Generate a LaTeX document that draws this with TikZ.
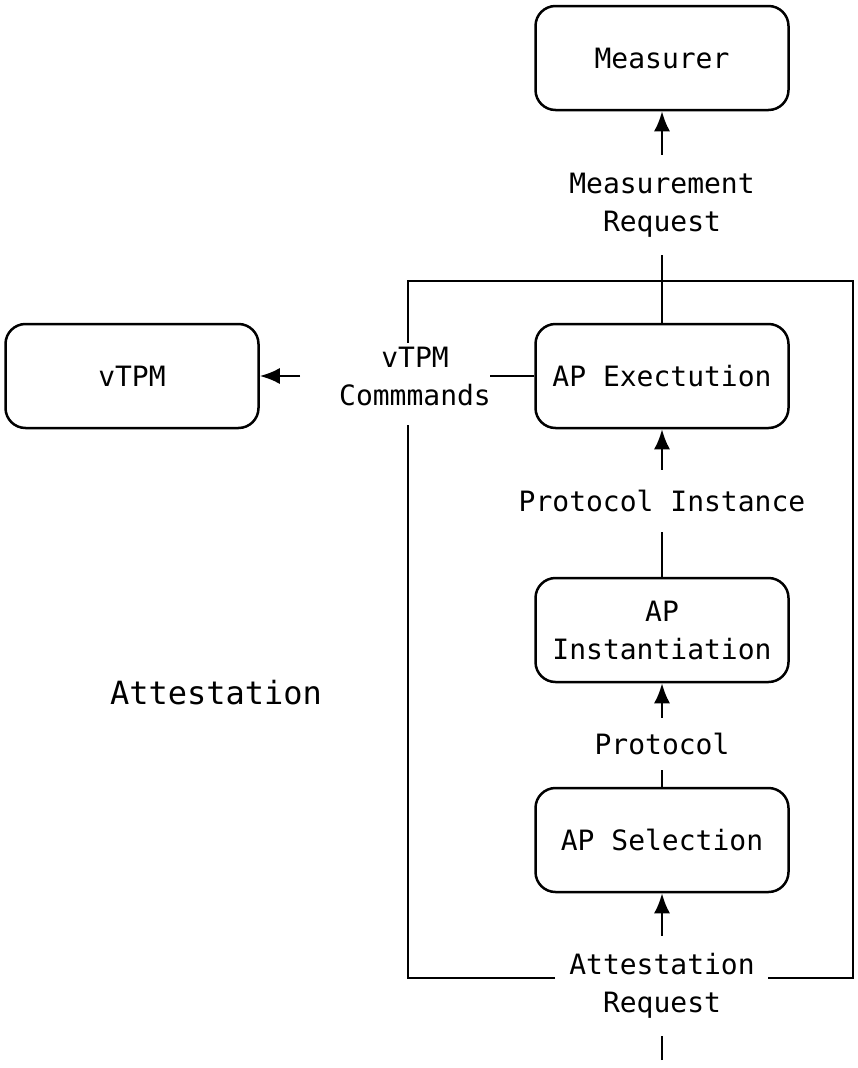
\documentclass[tikz,border=0pt]{standalone}
\usepackage{fontspec}
\setmonofont{DejaVu Sans Mono}
\usetikzlibrary{arrows.meta}
\tikzset{
  box/.style={draw, line width=2.5pt, rounded corners=20pt, minimum width=253pt, minimum height=104pt, inner sep=0pt, font=\ttfamily\fontsize{28}{38}\selectfont, align=center},
  lbl/.style={inner sep=0pt, font=\ttfamily\fontsize{28}{38}\selectfont, align=center},
  arr/.style={line width=2.5pt, -{Latex[length=20pt,width=16pt]}},
  ln/.style={line width=2.5pt},
  frame/.style={line width=2.5pt}
}
\begin{document}
\begin{tikzpicture}[x=1pt,y=-1pt]
\useasboundingbox (0,0) rectangle (857,1068);
% boxes
\node[box] (meas) at (662,58) {Measurer};
\node[box] (vtpm) at (132,376) {vTPM};
\node[box] (exec) at (662,376) {AP Exectution};
\node[box] (inst) at (662,630) {AP\\Instantiation};
\node[box] (sel) at (662,840) {AP Selection};
% labels
\node[lbl, minimum height=100pt] (mreq) at (662,205) {Measurement\\Request};
\node[lbl, minimum width=190pt] (vcmd) at (415,376) {vTPM\\Commmands};
\node[lbl, minimum height=62pt] (pinst) at (662,501) {Protocol Instance};
\node[lbl, minimum height=52pt] (prot) at (662,744) {Protocol};
\node[lbl, minimum height=100pt] (areq) at (662,986) {Attestation\\Request};
\node[lbl, font=\ttfamily\fontsize{32}{38}\selectfont] (att) at (216,693) {Attestation};
\coordinate (in) at (662,1060);
% frame
\coordinate (f1) at (408,343);
\coordinate (f2) at (408,281);
\coordinate (f3) at (853,281);
\coordinate (f4) at (853,978);
\coordinate (f5) at (768,978);
\coordinate (f6) at (555,978);
\coordinate (f7) at (408,978);
\coordinate (f8) at (408,425);
\draw[frame] (f1) -- (f2) -- (f3) -- (f4) -- (f5);
\draw[frame] (f6) -- (f7) -- (f8);
% connectors
\draw[arr] (mreq.north) -- (meas.south);
\draw[ln] (exec.north) -- (mreq.south);
\draw[arr] ([xshift=-115pt]vcmd.center) -- (vtpm.east);
\draw[ln] (exec.west) -- ([xshift=75pt]vcmd.center);
\draw[arr] (pinst.north) -- (exec.south);
\draw[ln] (inst.north) -- (pinst.south);
\draw[arr] (prot.north) -- (inst.south);
\draw[ln] (sel.north) -- (prot.south);
\draw[arr] (areq.north) -- (sel.south);
\draw[ln] (in) -- (areq.south);
\end{tikzpicture}
\end{document}
